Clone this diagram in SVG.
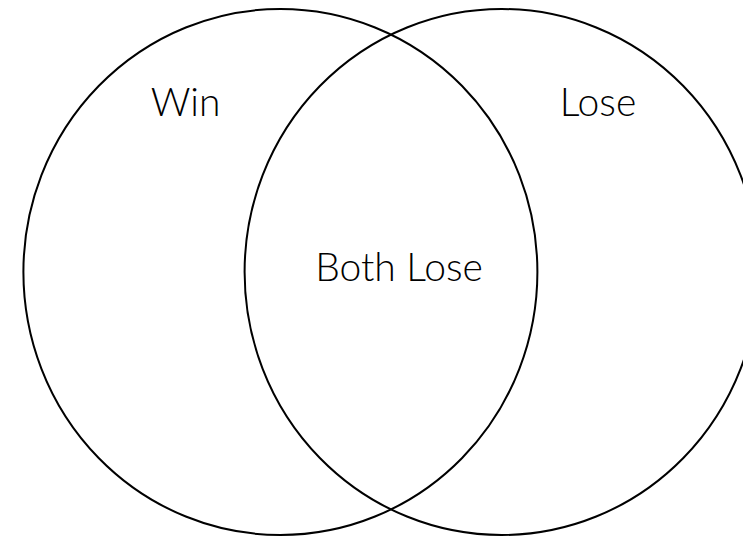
<svg xmlns="http://www.w3.org/2000/svg" width="743" height="537" viewBox="0 0 743 537">
<style>
.set{fill:none;stroke:#000;stroke-width:2}
.lbl{font-family:Lato,"Liberation Sans",sans-serif;font-weight:300;font-size:39px;fill:#000;text-anchor:middle}
</style>
<rect width="743" height="537" fill="#fff"/>
<g id="win">
<ellipse class="set" cx="280.4" cy="272" rx="257" ry="263"/>
<text class="lbl" x="185.5" y="116">Win</text>
</g>
<g id="lose">
<ellipse class="set" cx="501.6" cy="272" rx="257" ry="263"/>
<text class="lbl" x="598" y="116">Lose</text>
</g>
<g id="both">
<text class="lbl" x="399" y="281">Both Lose</text>
</g>
<g id="connectors"></g>
</svg>
